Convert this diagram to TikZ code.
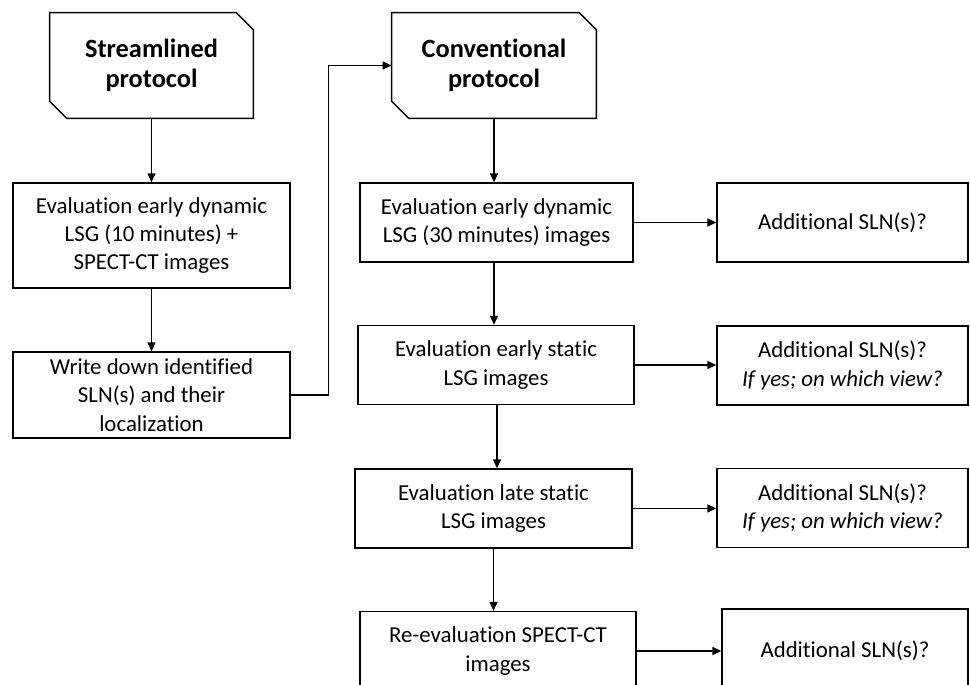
\documentclass[tikz,border=0pt]{standalone}
\usepackage{fontspec}
\setmainfont[Ligatures=NoCommon]{Carlito}
\usetikzlibrary{arrows.meta,calc}

\begin{document}
\begin{tikzpicture}[x=0.02cm,y=-0.02cm,
  box/.style={draw,line width=0.8pt,align=center,inner sep=2pt,
    font=\fontsize{13}{16.2}\selectfont},
  head/.style={align=center,inner sep=0pt,minimum height=2.1cm,
    font=\bfseries\fontsize{15}{17}\selectfont},
  link/.style={line width=0.8pt,-{Triangle[length=1.8mm,width=1.6mm]}}]
\useasboundingbox (0,0) rectangle (970,685);
\clip (0,0) rectangle (970,685);
% protocol headers
\node[head,minimum width=4.06cm] (sp) at (151.5,65.5) {Streamlined\\protocol};
\node[head,minimum width=4.08cm] (cp) at (494,65.5) {Conventional\\protocol};
\foreach \n in {sp,cp}
  \draw[line width=0.8pt] (\n.north west) -- ($(\n.north east)+(-17,0)$) -- ($(\n.north east)+(0,17)$)
    -- (\n.south east) -- ($(\n.south west)+(17,0)$) -- ($(\n.south west)+(0,-17)$) -- cycle;
% streamlined
\node[box,minimum width=5.54cm,minimum height=2.1cm] (l1) at (151.5,235.5) {Evaluation early dynamic\\LSG (10 minutes) +\\SPECT-CT images};
\node[box,minimum width=5.54cm,minimum height=1.72cm] (l2) at (151.5,395) {Write down identified\\SLN(s) and their\\localization};
% conventional
\node[box,minimum width=5.46cm,minimum height=1.58cm] (r1) at (496.5,222.5) {Evaluation early dynamic\\LSG (30 minutes) images};
\node[box,minimum width=5.52cm,minimum height=1.58cm] (r2) at (496,365) {Evaluation early static\\LSG images};
\node[box,minimum width=5.54cm,minimum height=1.58cm] (r3) at (493.5,508.5) {Evaluation late static\\LSG images};
\node[box,minimum width=5.52cm,minimum height=1.58cm] (r4) at (498,651) {Re-evaluation SPECT-CT\\images};
% additional
\node[box,minimum width=5.02cm,minimum height=1.58cm] (a1) at (842.5,222.5) {Additional SLN(s)?};
\node[box,minimum width=5.02cm,minimum height=1.58cm] (a2) at (842.5,365.5) {Additional SLN(s)?\\\textit{If yes; on which view?}};
\node[box,minimum width=5.02cm,minimum height=1.58cm] (a3) at (842.5,508) {Additional SLN(s)?\\\textit{If yes; on which view?}};
\node[box,minimum width=4.92cm,minimum height=1.68cm] (a4) at (845,651) {Additional SLN(s)?};
% arrows
\draw[link] (sp.south) -- (l1.north);
\draw[link] (l1.south) -- (l2.north);
\draw[link] (l2.east) -- ++(38,0) |- (cp.west);
\draw[link] (cp.south) -- (cp.south |- r1.north);
\draw[link] (cp.south |- r1.south) -- (cp.south |- r2.north);
\draw[link] ([xshift=0.02cm]r2.south) -- ([xshift=0.02cm]r2.south |- r3.north);
\draw[link] (r3.south) -- (r3.south |- r4.north);
\foreach \i in {1,...,4}
  \draw[link] (r\i.east) -- (r\i.east -| a\i.west);
\end{tikzpicture}
\end{document}
